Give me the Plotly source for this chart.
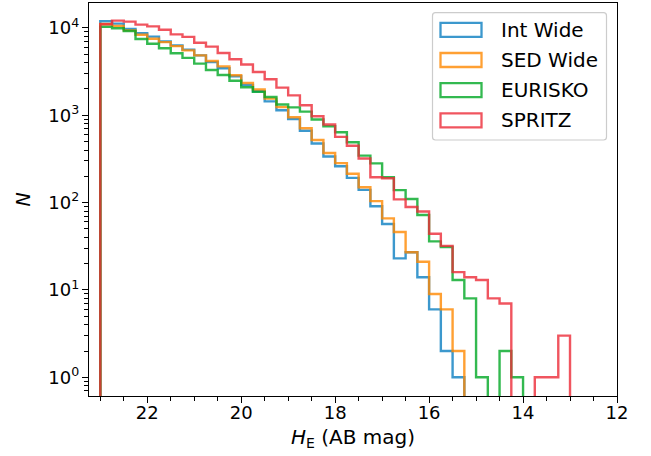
import plotly.graph_objects as go

# Histogram bin edges (AB mag), faint to bright, 0.25 mag wide
bin_edges = [23.0, 22.75, 22.5, 22.25, 22.0, 21.75, 21.5, 21.25, 21.0, 20.75,
             20.5, 20.25, 20.0, 19.75, 19.5, 19.25, 19.0, 18.75, 18.5, 18.25,
             18.0, 17.75, 17.5, 17.25, 17.0, 16.75, 16.5, 16.25, 16.0, 15.75,
             15.5, 15.25, 15.0, 14.75, 14.5, 14.25, 14.0, 13.75, 13.5, 13.25,
             13.0]

# Galaxy counts per bin, same order as the edges above
int_wide = [11900, 11200, 9700, 8700, 7950, 7000, 6300, 5640, 4850, 4060,
            3450, 2790, 2220, 1880, 1440, 1140, 907, 665, 475, 337,
            261, 192, 140, 91, 57, 23, 27, 14, 6, 2,
            1, 0, 0, 0, 0, 0, 0, 0, 0, 0]
sed_wide = [11100, 10500, 9360, 8360, 7520, 6880, 6190, 5530, 4850, 4180,
            3630, 2870, 2340, 1970, 1550, 1240, 950, 710, 520, 370,
            283, 214, 150, 104, 66, 46, 27, 21, 9, 6,
            2, 0, 0, 0, 0, 0, 0, 0, 0, 0]
eurisko = [10300, 9900, 9200, 7450, 6590, 5840, 5130, 4540, 3900, 3300,
           2890, 2480, 2090, 1850, 1620, 1330, 1230, 1100, 893, 748,
           640, 490, 345, 281, 195, 139, 110, 72, 36, 31,
           13, 8, 1, 0, 2, 1, 0, 0, 0, 0]
spritz = [11000, 12100, 11800, 10900, 10400, 9540, 8430, 7900, 6750, 6100,
          5150, 4380, 3810, 3130, 2580, 2070, 1690, 1300, 975, 785,
          565, 448, 320, 195, 190, 109, 89, 79, 44, 32,
          16, 14, 13, 8, 7, 0, 0, 1, 1, 3]

series_names = ["Int Wide", "SED Wide", "EURISKO", "SPRITZ"]
series_counts = [int_wide, sed_wide, eurisko, spritz]
series_colors = ["rgba(11,126,193,0.8)", "rgba(255,136,0,0.8)",
                 "rgba(0,168,36,0.8)", "rgba(236,43,55,0.8)"]

x_tick_vals = [22, 20, 18, 16, 14, 12]
y_tick_vals = [1, 10, 100, 1000, 10000]
y_tick_text = ["10<sup>0</sup>", "10<sup>1</sup>", "10<sup>2</sup>",
               "10<sup>3</sup>", "10<sup>4</sup>"]

# Canvas and plot-area geometry (pixels)
W, H = 651, 456
ML, MR, MT, MB = 89, 34, 3, 60
PW, PH = W - ML - MR, H - MT - MB

FLOOR = 1e-3  # empty bins fall below the visible log range


def paper_x(px):
    return (px - ML) / PW


def paper_y(py):
    return (H - MB - py) / PH


def step_outline(edges, counts):
    ys = [c if c > 0 else FLOOR for c in counts]
    xs = [edges[0]] + list(edges[:-1]) + [edges[-1]]
    ys = [FLOOR] + ys + [FLOOR]
    return xs, ys


fig = go.Figure()
for name, counts, color in zip(series_names, series_counts, series_colors):
    xs, ys = step_outline(bin_edges, counts)
    fig.add_trace(go.Scatter(
        x=xs, y=ys, mode="lines", name=name,
        line=dict(color=color, width=2.4, shape="hv"),
        showlegend=False, hoverinfo="skip",
    ))

font_family = "DejaVu Sans"

fig.update_layout(
    width=W, height=H,
    margin=dict(l=ML, r=MR, t=MT, b=MB, pad=0),
    paper_bgcolor="white", plot_bgcolor="white",
    font=dict(family=font_family, size=18, color="black"),
    showlegend=False,
)

fig.update_xaxes(
    range=[23.24, 12], autorange=False,
    tickmode="array", tickvals=x_tick_vals,
    ticks="outside", ticklen=6, tickwidth=1.3, tickcolor="black",
    ticklabelstandoff=-6,
    showline=True, linecolor="black", linewidth=1.3, mirror=True,
    showgrid=False, zeroline=False,
    tickfont=dict(size=18),
    minor=dict(ticks="outside", dtick=0.5, tick0=12, ticklen=3.5,
               tickwidth=1, tickcolor="black", showgrid=False),
)

minor_y = [m * 10 ** d for d in range(-1, 5) for m in range(2, 10)]
fig.update_yaxes(
    type="log", range=[-0.214, 4.285], autorange=False,
    tickmode="array", tickvals=y_tick_vals, ticktext=y_tick_text,
    ticks="outside", ticklen=6, tickwidth=1.3, tickcolor="black",
    ticklabelstandoff=-1,
    showline=True, linecolor="black", linewidth=1.3, mirror=True,
    showgrid=False, zeroline=False,
    tickfont=dict(size=18),
    minor=dict(ticks="outside", tickvals=minor_y, ticklen=3.5,
               tickwidth=1, tickcolor="black", showgrid=False),
)

# Axis titles
fig.add_annotation(x=0.5, y=paper_y(438), xref="paper", yref="paper",
                   text="<i>H</i><sub>E</sub> (AB mag)", showarrow=False,
                   xanchor="center", yanchor="middle",
                   font=dict(size=20, family=font_family))
fig.add_annotation(x=paper_x(22), y=0.5, xref="paper", yref="paper",
                   text="<i>N</i>", showarrow=False, textangle=-90,
                   xanchor="center", yanchor="middle",
                   font=dict(size=19, family=font_family))

# Legend: rounded frame, outlined patches and labels
bx0, bx1 = paper_x(432.5), paper_x(606.5)
by0, by1 = paper_y(140), paper_y(12.7)
rx, ry = 3 / PW, 3 / PH
frame = (f"M {bx0 + rx},{by1} L {bx1 - rx},{by1} Q {bx1},{by1} {bx1},{by1 - ry} "
         f"L {bx1},{by0 + ry} Q {bx1},{by0} {bx1 - rx},{by0} "
         f"L {bx0 + rx},{by0} Q {bx0},{by0} {bx0},{by0 + ry} "
         f"L {bx0},{by1 - ry} Q {bx0},{by1} {bx0 + rx},{by1} Z")
fig.add_shape(type="path", path=frame, xref="paper", yref="paper",
              line=dict(color="#cccccc", width=1.2), fillcolor="white",
              layer="above")

row_centers = [29.8, 60.0, 90.2, 120.4]
for name, color, cy in zip(series_names, series_colors, row_centers):
    fig.add_shape(type="rect", xref="paper", yref="paper",
                  x0=paper_x(440.5), x1=paper_x(481.5),
                  y0=paper_y(cy + 7), y1=paper_y(cy - 7),
                  line=dict(color=color, width=2.3),
                  fillcolor="rgba(0,0,0,0)", layer="above")
    fig.add_annotation(x=paper_x(498.5), y=paper_y(cy), xref="paper",
                       yref="paper", text=name, showarrow=False,
                       xanchor="left", yanchor="middle",
                       font=dict(size=20, family=font_family))

fig.write_html("out.html")
